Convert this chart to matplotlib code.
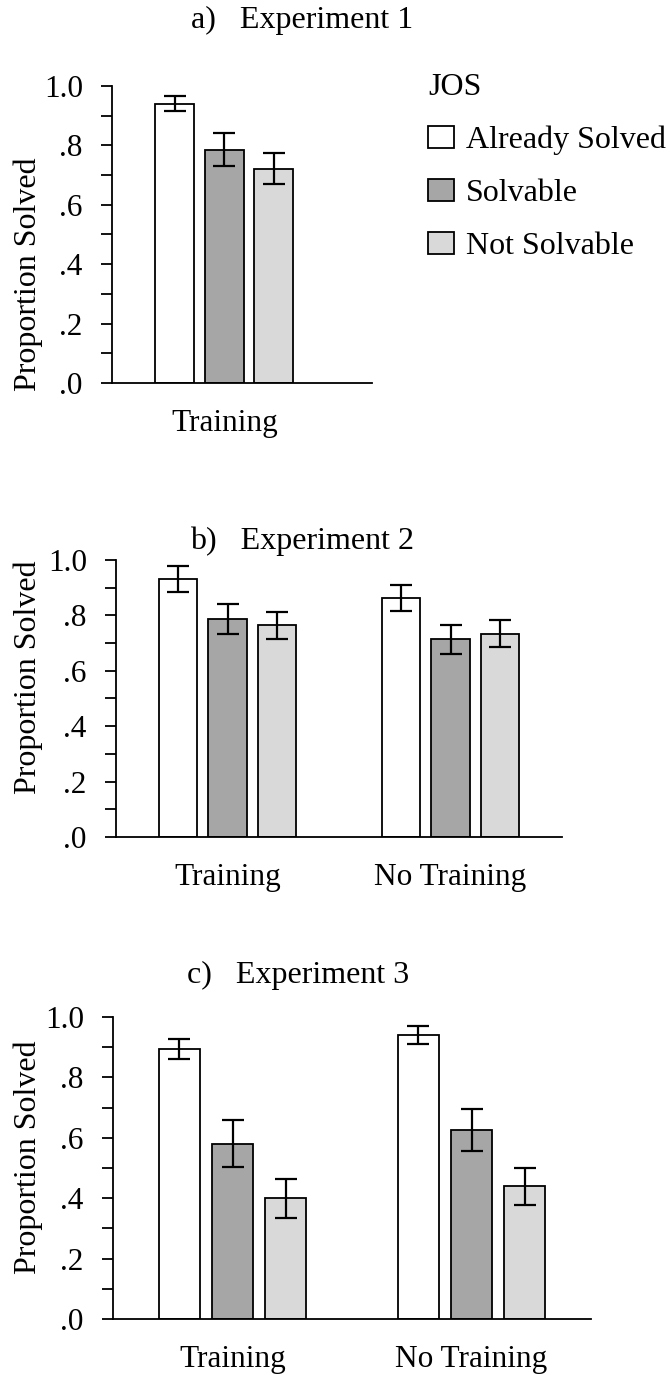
import numpy as np
import matplotlib
matplotlib.use("Agg")
import matplotlib.pyplot as plt
from matplotlib.patches import Patch
from matplotlib.ticker import MultipleLocator, FuncFormatter

plt.rcParams['font.family'] = ['Liberation Serif', 'DejaVu Serif']

# ── data ────────────────────────────────────────────────────────────────
jos_levels = ['Already Solved', 'Solvable', 'Not Solvable']
bar_colors = ['#FFFFFF', '#A6A6A6', '#D9D9D9']

exp1_groups = ['Training']
exp1_means = [[0.941, 0.786, 0.722]]
exp1_errs = [[0.026, 0.056, 0.051]]

exp2_groups = ['Training', 'No Training']
exp2_means = [[0.931, 0.787, 0.764], [0.862, 0.713, 0.734]]
exp2_errs = [[0.047, 0.054, 0.050], [0.046, 0.053, 0.049]]

exp3_groups = ['Training', 'No Training']
exp3_means = [[0.894, 0.581, 0.400], [0.939, 0.625, 0.439]]
exp3_errs = [[0.033, 0.077, 0.064], [0.030, 0.070, 0.061]]

titles = ['a)   Experiment 1', 'b)   Experiment 2', 'c)   Experiment 3']

W, H = 670, 1375
FS = 23
fig = plt.figure(figsize=(W / 100, H / 100), dpi=100)


def px_axes(left, top, right, bottom):
    return fig.add_axes([left / W, 1 - bottom / H, (right - left) / W, (bottom - top) / H])


def draw_panel(ax, groups, means, errs, xlim, label_y):
    step, width = 0.222, 0.174
    for j in range(len(jos_levels)):
        xs = np.arange(len(groups)) + (j - 1) * step
        vals = [m[j] for m in means]
        es = [e[j] for e in errs]
        ax.bar(xs, vals, width=width, color=bar_colors[j], edgecolor='black',
               linewidth=1.3, zorder=2)
        ax.errorbar(xs, vals, yerr=es, fmt='none', ecolor='black',
                    elinewidth=1.6, capsize=8, capthick=1.6, zorder=3)
    ax.set_ylim(0, 1.0)
    ax.set_xlim(*xlim)
    ax.yaxis.set_major_locator(MultipleLocator(0.2))
    ax.yaxis.set_minor_locator(MultipleLocator(0.1))
    ax.yaxis.set_major_formatter(FuncFormatter(
        lambda v, p: '1.0' if v >= 0.999 else ('%.1f' % v).lstrip('0')))
    ax.tick_params(axis='y', which='both', direction='out', length=8,
                   width=1.3, labelsize=FS - 0.5, pad=13)
    ax.set_xticks(np.arange(len(groups)))
    ax.set_xticklabels(groups, fontsize=FS - 0.5)
    ax.tick_params(axis='x', length=0, pad=19)
    for s in ['top', 'right']:
        ax.spines[s].set_visible(False)
    for s in ['left', 'bottom']:
        ax.spines[s].set_linewidth(1.3)
    ax.set_ylabel('Proportion Solved', fontsize=FS)
    ax.yaxis.label.set_verticalalignment('center')
    ax.yaxis.set_label_coords(28 / W, 1 - label_y / H, transform=fig.transFigure)


ax_a = px_axes(112, 86, 372, 383)
draw_panel(ax_a, exp1_groups, exp1_means, exp1_errs, (-0.504, 0.662), 274)
ax_b = px_axes(116, 560, 562, 837)
draw_panel(ax_b, exp2_groups, exp2_means, exp2_errs, (-0.5, 1.5), 677)
ax_c = px_axes(113, 1017, 591, 1319)
draw_panel(ax_c, exp3_groups, exp3_means, exp3_errs, (-0.5, 1.5), 1157)

for t, xpx, ypx in zip(titles, [191, 190, 187], [20, 541, 975]):
    fig.text(xpx / W, 1 - ypx / H, t, ha='left', va='center', fontsize=FS)

handles = [Patch(facecolor=c, edgecolor='black', linewidth=1.3) for c in bar_colors]
leg = fig.legend(handles, jos_levels, title='JOS', loc='upper left',
                 bbox_to_anchor=(428 / W, 1 - 73 / H), frameon=False,
                 fontsize=FS, title_fontsize=FS, alignment='left',
                 handlelength=0.8, handleheight=0.7, handletextpad=0.38,
                 labelspacing=0.74, borderpad=0, borderaxespad=0)

fig.savefig('out.png', dpi=100)
